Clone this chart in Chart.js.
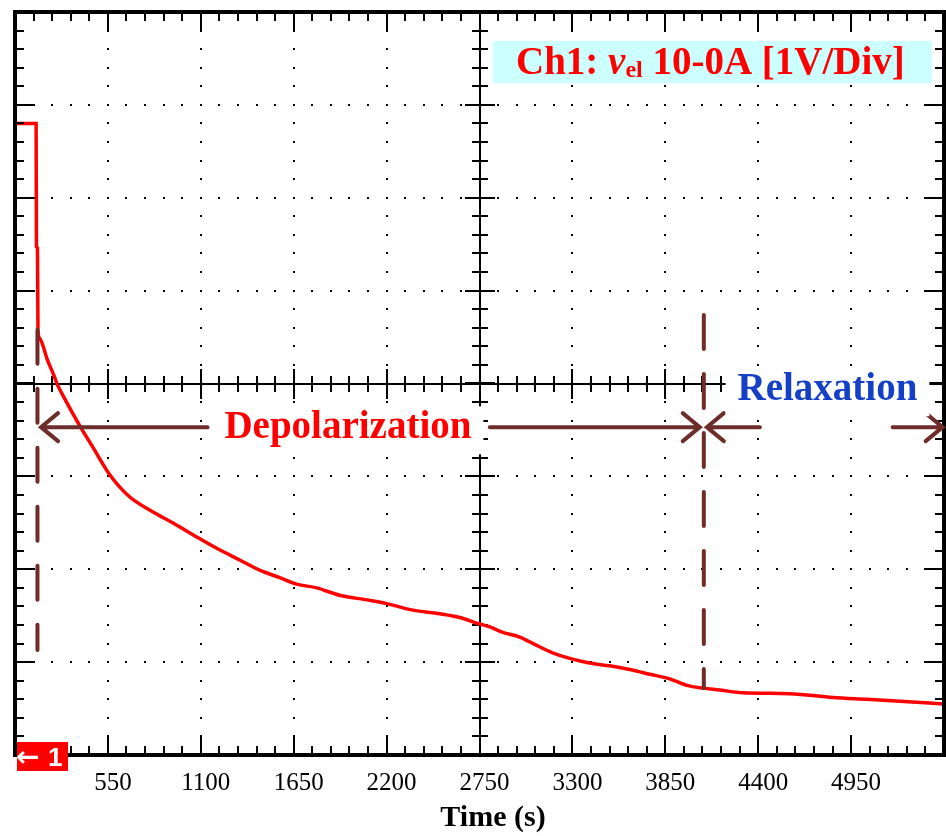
<!DOCTYPE html>
<html>
<head>
<meta charset="utf-8">
<script src="https://cdn.jsdelivr.net/npm/chart.js@4.4.1/dist/chart.umd.min.js"></script>
<style>
  html, body { margin: 0; padding: 0; background: #fff; overflow: hidden; }
  #wrap { position: relative; width: 946px; height: 836px; }
  #scope { display: block; }
</style>
</head>
<body>
<div id="wrap"><canvas id="scope"></canvas></div>
<script>
// ---- scope trace (time in s, volts) ----
const timeS = [0, 60, 125, 127, 133, 136, 145, 193, 234, 246, 293, 382, 459, 560, 678, 815, 933, 1093, 1211, 1330,
  1448, 1567, 1667, 1786, 1922, 2082, 2201, 2355, 2515, 2633, 2752, 2811, 2888, 2988, 3089, 3183, 3284, 3402, 3521, 3639,
  3758, 3876, 3977, 4072, 4173, 4309, 4587, 4842, 5043, 5239, 5500];
const volts = [6.80, 6.80, 6.80, 5.47, 5.46, 4.58, 4.49, 4.25, 4.07, 4.01, 3.84, 3.55, 3.32, 3.02, 2.78, 2.62, 2.50, 2.33, 2.21, 2.10,
  1.99, 1.91, 1.84, 1.80, 1.72, 1.67, 1.63, 1.56, 1.52, 1.48, 1.41, 1.38, 1.32, 1.27, 1.18, 1.10, 1.04, 0.99, 0.96, 0.92,
  0.87, 0.82, 0.75, 0.72, 0.70, 0.67, 0.66, 0.62, 0.60, 0.58, 0.55];

// ---- screen divisions ----
const xMin = 0, xMax = 5500, xStep = 550;
const yMin = 0, yMax = 8, yStep = 1;
const minorPerDiv = 5;
const xTitle = 'Time (s)';

// ---- phase annotations ----
const phaseMarkT = [133, 4078];
const phaseMarkTop = [4.60, 4.76];
const phaseMarkBottom = [1.13, 0.72];
const arrowV = 3.53;
const arrowFrom = [1140, 2811, 4410, 5196];
const arrowTo = [154, 4054, 4096, 5492];
const phaseNames = ['Depolarization', 'Relaxation'];
const phaseNameT = [1971, 4810];
const phaseNameV = [3.41, 3.82];
const phaseColors = ['#ff0000', '#1440c8'];

const SERIF = '"Liberation Serif", "Times New Roman", serif';
const BROWN = '#6e2c2a';

function dot(ctx, px, py) {
  ctx.fillRect(Math.round(px) - 1, Math.round(py) - 1, 2, 2);
}

const scopeGrid = {
  id: 'scopeGrid',
  beforeDatasetsDraw(chart) {
    const { ctx, chartArea: a, scales: { x, y } } = chart;
    const xMinor = xStep / minorPerDiv, yMinor = yStep / minorPerDiv;
    const xMid = (xMin + xMax) / 2, yMid = (yMin + yMax) / 2;
    ctx.save();
    ctx.fillStyle = '#000';
    // dotted major lines
    for (let xv = xMin + xStep; xv < xMax; xv += xStep) {
      if (xv === xMid) continue;
      for (let yv = yMin + yMinor; yv < yMax - 1e-6; yv += yMinor) dot(ctx, x.getPixelForValue(xv), y.getPixelForValue(yv));
    }
    for (let yv = yMin + yStep; yv < yMax; yv += yStep) {
      if (yv === yMid) continue;
      for (let xv = xMin + xMinor; xv < xMax - 1e-6; xv += xMinor) dot(ctx, x.getPixelForValue(xv), y.getPixelForValue(yv));
    }
    // centre cross with ticks
    ctx.strokeStyle = '#000';
    ctx.lineWidth = 2;
    const cx = Math.round(x.getPixelForValue(xMid)), cy = Math.round(y.getPixelForValue(yMid));
    ctx.beginPath();
    ctx.moveTo(a.left, cy); ctx.lineTo(a.right, cy);
    ctx.moveTo(cx, a.top); ctx.lineTo(cx, a.bottom);
    let i = 0;
    for (let xv = xMin; xv <= xMax + 1e-6; xv += xMinor, i++) {
      const px = Math.round(x.getPixelForValue(xv));
      const h = i % minorPerDiv === 0 ? 15 : 8;
      ctx.moveTo(px, cy - h); ctx.lineTo(px, cy + h);
    }
    i = 0;
    for (let yv = yMin; yv <= yMax + 1e-6; yv += yMinor, i++) {
      const py = Math.round(y.getPixelForValue(yv));
      const h = i % minorPerDiv === 0 ? 15 : 8;
      ctx.moveTo(cx - h, py); ctx.lineTo(cx + h, py);
    }
    ctx.stroke();
    ctx.restore();
  },
  afterDatasetsDraw(chart) {
    const { ctx, chartArea: a, scales: { x, y } } = chart;
    const xMinor = xStep / minorPerDiv, yMinor = yStep / minorPerDiv;
    ctx.save();
    // frame ticks
    ctx.strokeStyle = '#000';
    ctx.lineWidth = 2;
    ctx.beginPath();
    let i = 0;
    for (let xv = xMin; xv <= xMax + 1e-6; xv += xMinor, i++) {
      const px = Math.round(x.getPixelForValue(xv));
      const h = i % minorPerDiv === 0 ? 20 : 9;
      ctx.moveTo(px, a.top); ctx.lineTo(px, a.top + h);
      ctx.moveTo(px, a.bottom); ctx.lineTo(px, a.bottom - h);
    }
    i = 0;
    for (let yv = yMin; yv <= yMax + 1e-6; yv += yMinor, i++) {
      const py = Math.round(y.getPixelForValue(yv));
      const h = i % minorPerDiv === 0 ? 20 : 9;
      ctx.moveTo(a.left, py); ctx.lineTo(a.left + h, py);
      ctx.moveTo(a.right, py); ctx.lineTo(a.right - h, py);
    }
    ctx.stroke();
    ctx.lineWidth = 4;
    ctx.strokeRect(a.left, a.top, a.right - a.left, a.bottom - a.top);

    // phase boundaries (dashed)
    ctx.strokeStyle = BROWN;
    ctx.lineCap = 'round';
    ctx.setLineDash([34, 25]);
    phaseMarkT.forEach((t, k) => {
      const px = x.getPixelForValue(t);
      ctx.beginPath();
      ctx.moveTo(px, y.getPixelForValue(phaseMarkTop[k]) + 2);
      ctx.lineTo(px, y.getPixelForValue(phaseMarkBottom[k]));
      ctx.stroke();
    });
    ctx.setLineDash([]);

    // arrows
    const ay = y.getPixelForValue(arrowV);
    arrowFrom.forEach((t0, k) => {
      const p0 = x.getPixelForValue(t0), p1 = x.getPixelForValue(arrowTo[k]);
      const dir = Math.sign(p1 - p0);
      ctx.beginPath();
      ctx.moveTo(p0, ay); ctx.lineTo(p1, ay);
      ctx.moveTo(p1 - dir * 17, ay - 14); ctx.lineTo(p1, ay); ctx.lineTo(p1 - dir * 17, ay + 14);
      ctx.stroke();
    });

    // phase names on a white patch
    ctx.font = 'bold 39px ' + SERIF;
    ctx.textAlign = 'center';
    ctx.textBaseline = 'alphabetic';
    phaseNames.forEach((name, k) => {
      const px = x.getPixelForValue(phaseNameT[k]), py = y.getPixelForValue(phaseNameV[k]);
      const w = ctx.measureText(name).width;
      ctx.fillStyle = '#fff';
      ctx.fillRect(px - w / 2 - 12, py - 32, w + 24, 48);
      ctx.fillStyle = phaseColors[k];
      ctx.fillText(name, px, py);
    });

    // channel label box
    ctx.fillStyle = '#ccffff';
    ctx.fillRect(493, 41, 439, 42);
    ctx.fillStyle = '#ff0000';
    ctx.textAlign = 'left';
    let tx = 516;
    ctx.font = 'bold 39px ' + SERIF;
    ctx.fillText('Ch1: ', tx, 74); tx += ctx.measureText('Ch1: ').width;
    ctx.font = 'italic bold 39px ' + SERIF;
    ctx.fillText('v', tx, 74); tx += ctx.measureText('v').width;
    ctx.font = 'bold 24px ' + SERIF;
    ctx.fillText('el', tx, 77); tx += ctx.measureText('el').width;
    ctx.font = 'bold 39px ' + SERIF;
    ctx.fillText(' 10-0A [1V/Div]', tx, 74);

    // ground marker
    ctx.fillStyle = '#ff0000';
    ctx.fillRect(17, 742, 51, 29);
    ctx.fillStyle = '#fff';
    ctx.font = 'bold 28px "DejaVu Sans", sans-serif';
    ctx.fillText('\u2190', 16, 766);
    ctx.font = 'bold 26px "Liberation Sans", Arial, sans-serif';
    ctx.fillText('1', 48, 766);

    // axis title
    ctx.fillStyle = '#000';
    ctx.font = 'bold 30px ' + SERIF;
    ctx.textAlign = 'center';
    ctx.fillText(xTitle, 493, 826);
    ctx.restore();
  }
};

new Chart(document.getElementById('scope'), {
  type: 'line',
  data: {
    datasets: [{
      data: timeS.map((t, i) => ({ x: t, y: volts[i] })),
      borderColor: '#ff0000',
      borderWidth: 3.5,
      pointRadius: 0,
      cubicInterpolationMode: 'monotone',
      fill: false
    }]
  },
  options: {
    responsive: true,
    maintainAspectRatio: false,
    animation: false,
    layout: { padding: { left: 15, top: 12, right: 2, bottom: 0 } },
    plugins: { legend: { display: false }, tooltip: { enabled: false } },
    scales: {
      x: {
        type: 'linear',
        min: xMin, max: xMax,
        grid: { display: false, drawTicks: false },
        border: { display: false },
        afterFit: s => { s.height = 81; s.paddingLeft = 0; s.paddingRight = 0; },
        ticks: {
          stepSize: xStep,
          autoSkip: false,
          maxRotation: 0,
          padding: 13,
          labelOffset: 5,
          color: '#000',
          font: { family: SERIF, size: 25 },
          callback: v => (v > xMin && v < xMax ? String(v) : '')
        }
      },
      y: { type: 'linear', display: false, min: yMin, max: yMax }
    }
  },
  plugins: [scopeGrid]
});
</script>
</body>
</html>
